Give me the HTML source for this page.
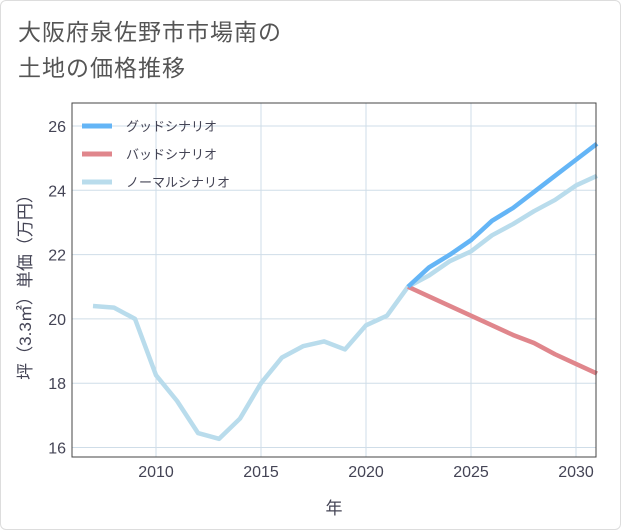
<!DOCTYPE html>
<html><head><meta charset="utf-8"><style>
body{margin:0;background:#fff;font-family:"Liberation Sans","Noto Sans CJK JP",sans-serif;}
#wrap{position:relative;width:621px;height:530px;}
#frame{position:absolute;left:0;top:0;width:619px;height:528px;border:1px solid #ddd;border-radius:6px;}
#title{position:absolute;left:18px;top:14px;font-size:23px;line-height:36px;color:#555;letter-spacing:1px;}
</style></head><body>
<div id="wrap">
<div id="frame"></div>
<div id="title">大阪府泉佐野市市場南の<br>土地の価格推移</div>
<svg id="chart" width="621" height="530" style="position:absolute;left:0;top:0"></svg>
</div>
<script>
const years=[2007,2008,2009,2010,2011,2012,2013,2014,2015,2016,2017,2018,2019,2020,2021,2022,2023,2024,2025,2026,2027,2028,2029,2030,2031];
const normal=[20.4,20.35,20.0,18.25,17.45,16.45,16.27,16.9,18.0,18.8,19.15,19.3,19.05,19.8,20.1,21.0,21.35,21.8,22.1,22.6,22.95,23.35,23.7,24.15,24.45];
const futureYears=[2022,2023,2024,2025,2026,2027,2028,2029,2030,2031];
const good=[21.0,21.6,22.0,22.45,23.05,23.45,23.95,24.45,24.95,25.45];
const bad=[21.0,20.7,20.4,20.1,19.8,19.5,19.25,18.9,18.6,18.3];
const xTicks=[2010,2015,2020,2025,2030];
const yTicks=[16,18,20,22,24,26];
const legendLabels=["グッドシナリオ","バッドシナリオ","ノーマルシナリオ"];
const colors=["#64b5f6","#e0868c","#b9dcec"];

const L=72,R=596,T=103,B=457;
const x=v=>156+(v-2010)*21;
const y=v=>126+(26-v)*32.15;
const svg=document.getElementById('chart');
const NS='http://www.w3.org/2000/svg';
function mk(t,a){const e=document.createElementNS(NS,t);for(const k in a)e.setAttribute(k,a[k]);svg.appendChild(e);return e;}
const bg=mk('rect',{x:L,y:T,width:R-L,height:B-T,fill:'#fff',stroke:'#333','stroke-width':1});


xTicks.forEach(t=>{
 const g=mk('line',{x1:x(t),x2:x(t),y1:T,y2:B,stroke:'#cfdde8'});
 
 
 const l=mk('text',{x:x(t),y:B+20,'text-anchor':'middle','font-size':16,fill:'#445'});l.textContent=t;
 
 
});
yTicks.forEach(t=>{
 const g=mk('line',{x1:L,x2:R,y1:y(t),y2:y(t),stroke:'#cfdde8'});
 
 
 const l=mk('text',{x:L-6,y:y(t)+6,'text-anchor':'end','font-size':16,fill:'#445'});l.textContent=t;
 
 
});
function line(xs,ys,c,name){
 const p=mk('polyline',{points:xs.map((v,i)=>x(v)+','+y(ys[i])).join(' '),fill:'none',stroke:c,'stroke-width':4.5,'stroke-linejoin':'round'});
 
 
}
line(years,normal,colors[2],'normal-scenario-line');
line(futureYears,bad,colors[1],'bad-scenario-line');
line(futureYears,good,colors[0],'good-scenario-line');
const fr=mk('rect',{x:L,y:T,width:R-L,height:B-T,fill:'none',stroke:'#444','stroke-width':1});


legendLabels.forEach((s,i)=>{
 const yy=126+i*28;
 const l=mk('line',{x1:82,x2:112,y1:yy,y2:yy,stroke:colors[i],'stroke-width':5});
 
 
 const t=mk('text',{x:126,y:yy+5,'font-size':13,fill:'#445'});t.textContent=s;
 
 
});
const xt=mk('text',{x:334,y:514,'text-anchor':'middle','font-size':17,fill:'#445'});xt.textContent='年';


const yt=mk('text',{x:0,y:0,'text-anchor':'middle','font-size':17,fill:'#445',transform:'translate(31,283) rotate(-90)'});yt.textContent='坪（3.3㎡）単価（万円）';


</script>
</body></html>
